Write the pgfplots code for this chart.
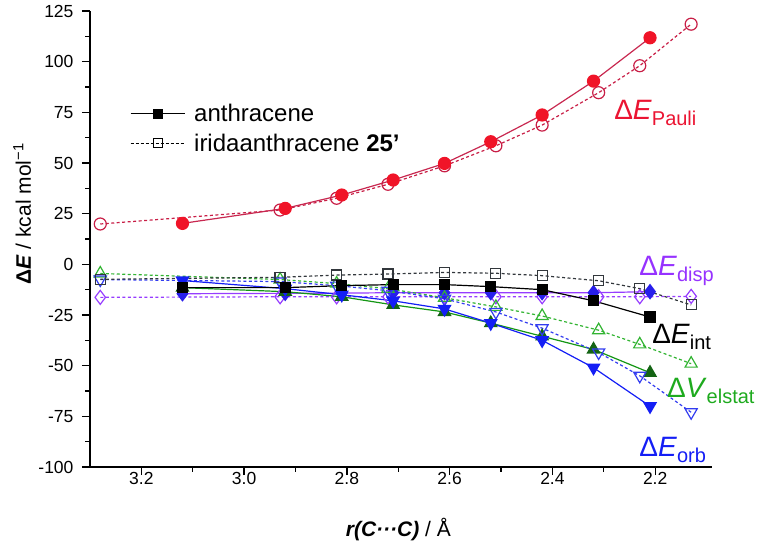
\documentclass[border=0pt]{standalone}
\usepackage{fontspec}
\setmainfont{Liberation Sans}
\usepackage{pgfplots}
\pgfplotsset{compat=1.18}
\definecolor{cPauliL}{RGB}{200,40,80}
\definecolor{cPauliM}{RGB}{240,20,40}
\definecolor{cPauliO}{RGB}{200,30,70}
\definecolor{cPauliT}{RGB}{235,20,50}
\definecolor{cIntI}{RGB}{50,55,60}
\definecolor{cElA}{RGB}{20,150,20}
\definecolor{cElAM}{RGB}{20,100,20}
\definecolor{cElI}{RGB}{50,180,50}
\definecolor{cElT}{RGB}{30,170,30}
\definecolor{cOrb}{RGB}{20,30,245}
\definecolor{cOrbI}{RGB}{50,60,240}
\definecolor{cDisp}{RGB}{150,60,255}
\definecolor{cDispM}{RGB}{40,30,235}
\definecolor{cDispT}{RGB}{150,50,255}
\begin{document}
\begin{tikzpicture}
\begin{axis}[
  at={(0pt,0pt)}, anchor=south west,
  scale only axis, width=621.7pt, height=456pt,
  x dir=reverse, xmin=2.09, xmax=3.30,
  ymin=-100, ymax=125,
  xtick={2.2,2.4,2.6,2.8,3.0,3.2},
  xticklabels={2.2,2.4,2.6,2.8,3.0,3.2},
  ytick={-100,-75,-50,-25,0,25,50,75,100,125},
  minor x tick num=1, minor y tick num=1,
  axis x line=bottom, axis y line=left,
  axis line style={-, line width=1.6pt},
  tick align=outside,
  major tick length=8pt, minor tick length=4.5pt,
  every tick/.style={black, line width=1.3pt},
  tick label style={font=\fontsize{17.5}{20}\selectfont},
  xticklabel style={yshift=6pt},
  yticklabel style={xshift=-5pt},
  /pgf/number format/assume math mode=true,
  clip=false,
  xlabel={\textbf{\textit{r(C···C)}} / Å},
  xlabel style={font=\fontsize{21}{24}\selectfont, at={(axis description cs:0.496,-0.138)}, anchor=center},
  ylabel={\textbf{Δ\textit{E}} / kcal mol\textsuperscript{−1}},
  ylabel style={font=\fontsize{21}{24}\selectfont, at={(axis description cs:-0.109,0.555)}, anchor=center},
  legend style={at={(axis description cs:0.0595,0.805)}, anchor=north west, draw=none, fill=none,
    font=\fontsize{24}{28}\selectfont, row sep=7pt, column sep=7pt, cells={anchor=west}},
  legend image code/.code={
    \draw[mark repeat=2,mark phase=2,#1] plot coordinates {(0pt,0pt) (27pt,0pt) (54pt,0pt)};
  },
]
\addlegendimage{black, line width=1pt, mark=square*, mark size=4.5pt, mark options={solid}}
\addlegendentry{anthracene}
\addlegendimage{black, line width=1pt, dashed, dash pattern=on 3pt off 2pt, mark=square, mark size=4.5pt, mark options={solid, fill=white}}
\addlegendentry{iridaanthracene \textbf{25\symbol{39}}}

% Pauli
\addplot[cPauliO, line width=1.2pt, dash pattern=on 3pt off 2.5pt, mark=o, mark size=6pt, mark options={solid, fill=white, line width=1.2pt}, forget plot] coordinates {
(3.28,19.9) (2.93,26.8) (2.82,32.6) (2.72,39.5) (2.61,48.6) (2.51,58.5) (2.42,68.7) (2.31,84.7) (2.23,98.0) (2.13,118.5)};
\addplot[cPauliL, line width=1.2pt, mark=*, mark size=6pt, mark options={solid, fill=cPauliM, draw=cPauliM}, forget plot] coordinates {
(3.12,20.2) (2.92,27.6) (2.81,34.2) (2.71,41.6) (2.61,49.8) (2.52,60.5) (2.42,73.7) (2.32,90.4) (2.21,111.8)};

% disp
\addplot[cDisp, line width=1.2pt, dash pattern=on 3pt off 2.5pt, mark=diamond, mark size=7pt, mark options={solid, fill=white, line width=1.2pt}, forget plot] coordinates {
(3.28,-16.3) (2.93,-16) (2.82,-16) (2.72,-16) (2.61,-16) (2.51,-16) (2.42,-16) (2.31,-16) (2.23,-16) (2.13,-15.8)};
\addplot[cDisp, line width=1.2pt, mark=diamond*, mark size=7pt, mark options={solid, fill=cDispM, draw=cDispM}, forget plot] coordinates {
(3.12,-14.5) (2.92,-14.3) (2.81,-14.2) (2.71,-14) (2.61,-14) (2.52,-14) (2.42,-14) (2.32,-14) (2.21,-13.5)};

% elstat
\addplot[cElI, line width=1.2pt, dash pattern=on 3pt off 2.5pt, mark=triangle, mark size=7pt, mark options={solid, fill=white, line width=1.2pt}, forget plot] coordinates {
(3.28,-4.5) (2.93,-7.5) (2.82,-9.5) (2.72,-12) (2.61,-16.5) (2.51,-21) (2.42,-25.5) (2.31,-32.5) (2.23,-39.5) (2.13,-49)};
\addplot[cElA, line width=1.2pt, mark=triangle*, mark size=7pt, mark options={solid, fill=cElAM, draw=cElAM}, forget plot] coordinates {
(3.12,-11.5) (2.92,-13.5) (2.81,-16) (2.71,-20) (2.61,-23.5) (2.52,-29) (2.42,-35.5) (2.32,-42) (2.21,-53.5)};

% orb
\addplot[cOrbI, line width=1.2pt, dash pattern=on 3pt off 2.5pt, mark=triangle, mark size=7pt, mark options={solid, fill=white, line width=1.2pt, rotate=180}, forget plot] coordinates {
(3.28,-7.5) (2.93,-8.5) (2.82,-10.5) (2.72,-13) (2.61,-17) (2.51,-23.5) (2.42,-31.5) (2.31,-43.5) (2.23,-55) (2.13,-73)};
\addplot[cOrb, line width=1.2pt, mark=triangle*, mark size=7pt, mark options={solid, fill=cOrb, draw=cOrb, rotate=180}, forget plot] coordinates {
(3.12,-8) (2.92,-12) (2.81,-15) (2.71,-18) (2.61,-22) (2.52,-29) (2.42,-37.5) (2.32,-51) (2.21,-70)};

% int
\addplot[cIntI, line width=1.2pt, dash pattern=on 3pt off 2.5pt, mark=square, mark size=5pt, mark options={solid, fill=white, line width=1.2pt}, forget plot] coordinates {
(3.28,-7.4) (2.93,-6.4) (2.82,-5.3) (2.72,-4.8) (2.61,-4.0) (2.51,-4.4) (2.42,-5.6) (2.31,-8.1) (2.23,-12) (2.13,-20)};
\addplot[black, line width=1.2pt, mark=square*, mark size=5pt, mark options={solid, fill=black}, forget plot] coordinates {
(3.12,-11.5) (2.92,-11.5) (2.81,-10.5) (2.71,-10) (2.61,-10) (2.52,-11) (2.42,-12.5) (2.32,-18) (2.21,-26)};

% labels
\node[anchor=base west, inner sep=0pt, text=cPauliT, font=\fontsize{28}{30}\selectfont] at (axis cs:2.28,71.7) {Δ\textit{E}\raisebox{-6pt}{\fontsize{20}{20}\selectfont Pauli}};
\node[anchor=base west, inner sep=0pt, text=cDispT, font=\fontsize{28}{30}\selectfont] at (axis cs:2.231,-5.5) {Δ\textit{E}\raisebox{-6pt}{\fontsize{20}{20}\selectfont disp}};
\node[anchor=base west, inner sep=0pt, text=black, font=\fontsize{28}{30}\selectfont] at (axis cs:2.206,-39) {Δ\textit{E}\raisebox{-6pt}{\fontsize{20}{20}\selectfont int}};
\node[anchor=base west, inner sep=0pt, text=cElT, font=\fontsize{28}{30}\selectfont] at (axis cs:2.177,-65.5) {Δ\textit{V}\raisebox{-6pt}{\fontsize{20}{20}\selectfont elstat}};
\node[anchor=base west, inner sep=0pt, text=cOrb, font=\fontsize{28}{30}\selectfont] at (axis cs:2.231,-94.9) {Δ\textit{E}\raisebox{-6pt}{\fontsize{20}{20}\selectfont orb}};
\end{axis}
\path (-90pt,-77pt) rectangle (671pt,467pt);
\end{tikzpicture}
\end{document}
